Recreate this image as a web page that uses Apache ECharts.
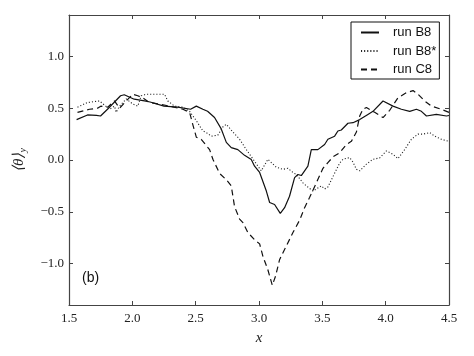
<!DOCTYPE html>
<html>
<head>
<meta charset="utf-8">
<script src="https://cdn.jsdelivr.net/npm/echarts@6/dist/echarts.min.js"></script>
<style>
  html, body { margin: 0; padding: 0; background: #fff; }
  #chart { width: 474px; height: 356px; }
</style>
</head>
<body>
<div id="chart"></div>
<script>
// run B8 (solid)
const b8X = [1.56, 1.646, 1.717, 1.749, 1.804, 1.907, 1.936, 2.015, 2.096, 2.14, 2.25, 2.357, 2.46, 2.505, 2.557, 2.594, 2.649, 2.702, 2.742, 2.781, 2.833, 2.886, 2.939, 2.965, 3.005, 3.058, 3.084, 3.123, 3.137, 3.168, 3.202, 3.241, 3.281, 3.307, 3.334, 3.386, 3.413, 3.465, 3.518, 3.544, 3.597, 3.623, 3.65, 3.702, 3.742, 3.795, 3.86, 3.9, 3.979, 4.058, 4.124, 4.19, 4.243, 4.282, 4.322, 4.4, 4.48, 4.5]
const b8Y = [0.39, 0.435, 0.43, 0.425, 0.49, 0.62, 0.63, 0.587, 0.57, 0.56, 0.52, 0.51, 0.49, 0.52, 0.49, 0.47, 0.41, 0.30, 0.17, 0.12, 0.10, 0.045, 0.005, -0.06, -0.12, -0.30, -0.41, -0.43, -0.445, -0.515, -0.46, -0.35, -0.17, -0.14, -0.15, -0.06, 0.10, 0.10, 0.15, 0.20, 0.23, 0.28, 0.29, 0.355, 0.36, 0.39, 0.44, 0.47, 0.57, 0.52, 0.49, 0.47, 0.49, 0.47, 0.425, 0.44, 0.425, 0.43]

// run B8* (dotted)
const b8sX = [1.567, 1.646, 1.741, 1.78, 1.82, 1.859, 1.873, 1.899, 1.952, 2.004, 2.043, 2.07, 2.11, 2.189, 2.254, 2.28, 2.333, 2.399, 2.452, 2.505, 2.557, 2.584, 2.623, 2.675, 2.715, 2.742, 2.794, 2.847, 2.9, 2.952, 3.018, 3.07, 3.137, 3.189, 3.228, 3.268, 3.295, 3.347, 3.374, 3.426, 3.492, 3.518, 3.544, 3.584, 3.637, 3.663, 3.716, 3.742, 3.769, 3.795, 3.848, 3.9, 3.953, 4.006, 4.058, 4.097, 4.15, 4.203, 4.255, 4.295, 4.348, 4.387, 4.44, 4.5]
const b8sY = [0.51, 0.555, 0.57, 0.53, 0.49, 0.52, 0.46, 0.52, 0.59, 0.54, 0.52, 0.62, 0.635, 0.635, 0.635, 0.57, 0.52, 0.51, 0.47, 0.38, 0.28, 0.265, 0.23, 0.24, 0.32, 0.345, 0.27, 0.2, 0.10, 0.01, -0.105, 0.007, -0.07, -0.09, -0.08, -0.12, -0.14, -0.22, -0.25, -0.30, -0.25, -0.28, -0.26, -0.16, -0.03, 0.007, 0.023, -0.02, -0.09, -0.105, -0.04, 0.007, 0.02, 0.087, 0.055, 0.013, 0.10, 0.20, 0.25, 0.25, 0.265, 0.23, 0.20, 0.18]

// run C8 (dashed)
const c8X = [1.567, 1.662, 1.725, 1.751, 1.806, 1.859, 1.899, 1.952, 2.004, 2.043, 2.083, 2.136, 2.215, 2.294, 2.399, 2.452, 2.478, 2.505, 2.544, 2.61, 2.636, 2.689, 2.742, 2.781, 2.807, 2.847, 2.873, 2.912, 2.965, 3.005, 3.031, 3.07, 3.105, 3.131, 3.163, 3.216, 3.268, 3.321, 3.36, 3.4, 3.453, 3.505, 3.544, 3.584, 3.637, 3.69, 3.729, 3.769, 3.795, 3.821, 3.848, 3.913, 3.979, 4.032, 4.097, 4.164, 4.216, 4.255, 4.308, 4.361, 4.44, 4.5]
const c8Y = [0.46, 0.49, 0.50, 0.52, 0.51, 0.57, 0.50, 0.57, 0.635, 0.62, 0.60, 0.555, 0.54, 0.52, 0.49, 0.46, 0.34, 0.22, 0.20, 0.10, 0.007, -0.13, -0.19, -0.25, -0.45, -0.57, -0.605, -0.70, -0.77, -0.81, -0.93, -1.06, -1.21, -1.12, -0.96, -0.83, -0.70, -0.58, -0.46, -0.36, -0.22, -0.08, -0.025, 0.03, 0.07, 0.15, 0.18, 0.27, 0.425, 0.49, 0.507, 0.46, 0.41, 0.48, 0.60, 0.65, 0.67, 0.635, 0.57, 0.52, 0.49, 0.46]

const xTicks = [1.5, 2.0, 2.5, 3.0, 3.5, 4.0, 4.5]
const yTicks = [-1.0, -0.5, 0.0, 0.5, 1.0]

const pairs = (xs, ys) => xs.map((x, i) => [x, ys[i]])

const chart = echarts.init(document.getElementById('chart'))

const serif = 'Liberation Serif'
const axisColor = '#444'
const fmt = v => (v < 0 ? '\u2212' : '') + Math.abs(v).toFixed(1)

const baseX = {
  type: 'value',
  min: 1.5,
  max: 4.5,
  interval: 0.5,
  splitLine: { show: false },
  axisLine: { onZero: false, lineStyle: { color: axisColor, width: 1.2 } },
  axisTick: { inside: true, length: 4, lineStyle: { color: axisColor } }
}
const baseY = {
  type: 'value',
  min: -1.4,
  max: 1.4,
  splitLine: { show: false },
  axisLine: { onZero: false, lineStyle: { color: axisColor, width: 1.2 } },
  axisTick: { inside: true, length: 4, customValues: yTicks, lineStyle: { color: axisColor } }
}

const option = {
  backgroundColor: '#fff',
  animation: false,
  grid: { left: 69, right: 25, top: 15, bottom: 51, outerBoundsMode: 'none' },
  xAxis: [
    {
      ...baseX,
      position: 'bottom',
      name: 'x',
      nameLocation: 'middle',
      nameGap: 26,
      nameTextStyle: { fontFamily: serif, fontStyle: 'italic', fontSize: 15, color: '#222' },
      axisLabel: { margin: 7, fontFamily: serif, fontSize: 13, color: '#222', formatter: fmt }
    },
    { ...baseX, position: 'top', axisLabel: { show: false } }
  ],
  yAxis: [
    {
      ...baseY,
      position: 'left',
      name: '{a|\u27E8\u03B8\u27E9}{b|y}',
      nameLocation: 'middle',
      nameRotate: 90,
      nameGap: 41,
      nameTextStyle: {
        rich: {
          a: { fontFamily: serif, fontStyle: 'italic', fontSize: 15, color: '#222' },
          b: { fontFamily: serif, fontStyle: 'italic', fontSize: 10, color: '#222', padding: [8, 0, 0, 0] }
        }
      },
      axisLabel: { margin: 5, fontFamily: serif, fontSize: 13, color: '#222', customValues: yTicks, formatter: fmt }
    },
    { ...baseY, position: 'right', axisLabel: { show: false } }
  ],
  legend: {
    orient: 'vertical',
    left: 351,
    top: 22,
    padding: [4, 3, 3, 9],
    itemGap: 5.5,
    itemWidth: 18,
    itemHeight: 14,
    borderColor: '#111',
    borderWidth: 1,
    borderRadius: 0,
    backgroundColor: '#fff',
    itemStyle: { opacity: 0, borderWidth: 0 },
    textStyle: { fontFamily: 'Liberation Sans', fontSize: 13, color: '#111', padding: [0, 0, 0, 9] },
    data: ['run B8', 'run B8*', 'run C8']
  },
  graphic: [
    {
      type: 'text',
      left: 82,
      top: 271,
      style: { text: '(b)', fontFamily: 'Liberation Sans', fontSize: 14, fill: '#111' }
    }
  ],
  series: [
    {
      name: 'run B8',
      type: 'line',
      data: pairs(b8X, b8Y),
      symbol: 'none',
      lineStyle: { color: '#111', width: 1.2, type: 'solid' },
      itemStyle: { color: '#111' }
    },
    {
      name: 'run B8*',
      type: 'line',
      data: pairs(b8sX, b8sY),
      symbol: 'none',
      lineStyle: { color: '#222', width: 1.1, type: [1.1, 2] },
      itemStyle: { color: '#222' }
    },
    {
      name: 'run C8',
      type: 'line',
      data: pairs(c8X, c8Y),
      symbol: 'none',
      lineStyle: { color: '#111', width: 1.2, type: [6, 4] },
      itemStyle: { color: '#111' }
    }
  ]
}

chart.setOption(option)
</script>
</body>
</html>
